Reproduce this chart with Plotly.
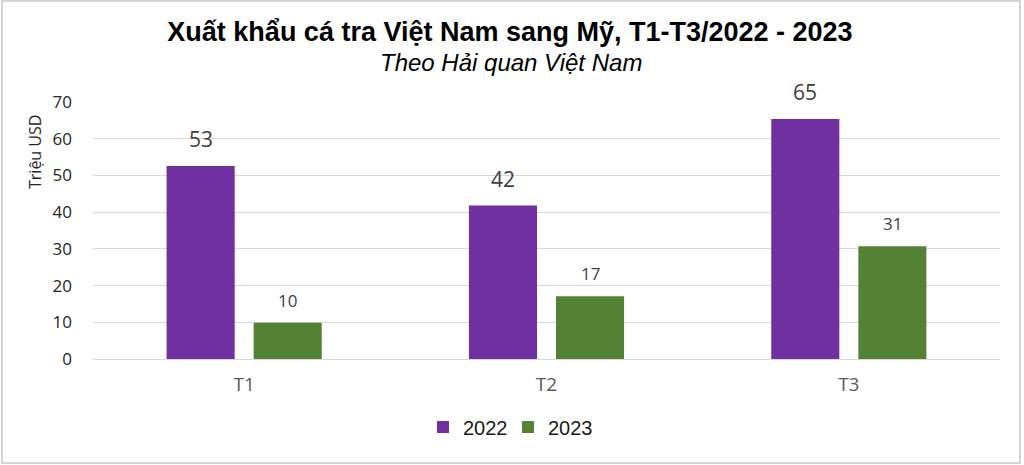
import plotly.graph_objects as go

categories = ["T1", "T2", "T3"]
series_names = ["2022", "2023"]
values_2022 = [52.6, 41.8, 65.4]
values_2023 = [9.9, 17.1, 30.7]
labels_2022 = ["53", "42", "65"]
labels_2023 = ["10", "17", "31"]
y_ticks = [0, 10, 20, 30, 40, 50, 60, 70]

PURPLE = "#7030A0"
GREEN = "#548235"
LABEL_FONT = "Open Sans, Liberation Sans, Arial, sans-serif"
ARIAL = "Liberation Sans, Arial, sans-serif"

fig = go.Figure()
fig.add_trace(go.Bar(
    name=series_names[0], x=categories, y=values_2022,
    marker=dict(color=PURPLE, line=dict(width=0)), hoverinfo="x+y",
))
fig.add_trace(go.Bar(
    name=series_names[1], x=categories, y=values_2023,
    marker=dict(color=GREEN, line=dict(width=0)), hoverinfo="x+y",
))

ml, mr, mt, mb = 93, 24, 102, 106
W, H = 1024, 465
pw, ph = W - ml - mr, H - mt - mb

annotations = []
for cat, v, lab in zip(categories, values_2022, labels_2022):
    annotations.append(dict(
        x=cat, y=v, xref="x", yref="y", text=lab, showarrow=False,
        xanchor="center", yanchor="bottom", xshift=-43.5, yshift=11,
        font=dict(family=LABEL_FONT, size=21, color="#404040"),
    ))
for cat, v, lab in zip(categories, values_2023, labels_2023):
    annotations.append(dict(
        x=cat, y=v, xref="x", yref="y", text=lab, showarrow=False,
        xanchor="center", yanchor="bottom", xshift=43.5, yshift=9,
        font=dict(family=LABEL_FONT, size=17, color="#404040"),
    ))

annotations += [
    dict(
        text="<i>Theo Hải quan Việt Nam</i>", xref="paper", yref="paper",
        x=(511 - ml) / pw, y=1 + (mt - 62) / ph, xanchor="center", yanchor="middle",
        showarrow=False, font=dict(family=ARIAL, size=24, color="#000000"),
    ),
    dict(
        text="Triệu USD", xref="paper", yref="paper", textangle=-90,
        x=(35 - ml) / pw, y=(H - mb - 152) / ph, xanchor="center", yanchor="middle",
        showarrow=False, font=dict(family=LABEL_FONT, size=16, color="#262626"),
    ),
]

fig.update_layout(
    width=W, height=H,
    margin=dict(l=ml, r=mr, t=mt, b=mb),
    paper_bgcolor="white", plot_bgcolor="white",
    barmode="group", bargap=0.424, bargroupgap=0.218,
    title=dict(
        text="<b>Xuất khẩu cá tra Việt Nam sang Mỹ, T1-T3/2022 - 2023</b>",
        x=(510 - ml) / pw, xref="paper", xanchor="center", y=1 - 32 / H, yanchor="middle",
        font=dict(family=ARIAL, size=27, color="#000000"),
    ),
    showlegend=True,
    legend=dict(
        orientation="h", x=(508 - ml) / pw, xanchor="center",
        y=-(427 - (H - mb)) / ph, yanchor="middle",
        font=dict(family=ARIAL, size=20, color="#1a1a1a"),
        entrywidth=40, entrywidthmode="pixels", traceorder="normal",
    ),
    xaxis=dict(
        showgrid=False, showline=False, zeroline=False, ticks="",
        tickfont=dict(family=LABEL_FONT, size=19, color="#595959"),
        ticklabelstandoff=12,
    ),
    yaxis=dict(
        range=[0, 70], tickvals=y_ticks, showgrid=True, gridcolor="#D9D9D9", gridwidth=1,
        zeroline=True, zerolinecolor="#D9D9D9", zerolinewidth=1, showline=False,
        tickfont=dict(family=LABEL_FONT, size=17, color="#262626"),
        ticklabelstandoff=20,
    ),
    annotations=annotations,
    shapes=[
        dict(
            type="rect", xref="paper", yref="paper", layer="above",
            x0=(2 - ml) / pw, x1=(1020 - ml) / pw,
            y0=(H - mb - 463) / ph, y1=(H - mb - 1) / ph,
            line=dict(color="#C8C8C8", width=1.5), fillcolor="rgba(0,0,0,0)",
        )
    ],
)

fig.write_html(
    "out.html",
    config={"displayModeBar": False},
    post_script="document.body.style.margin='0';document.body.style.overflow='hidden';",
)
